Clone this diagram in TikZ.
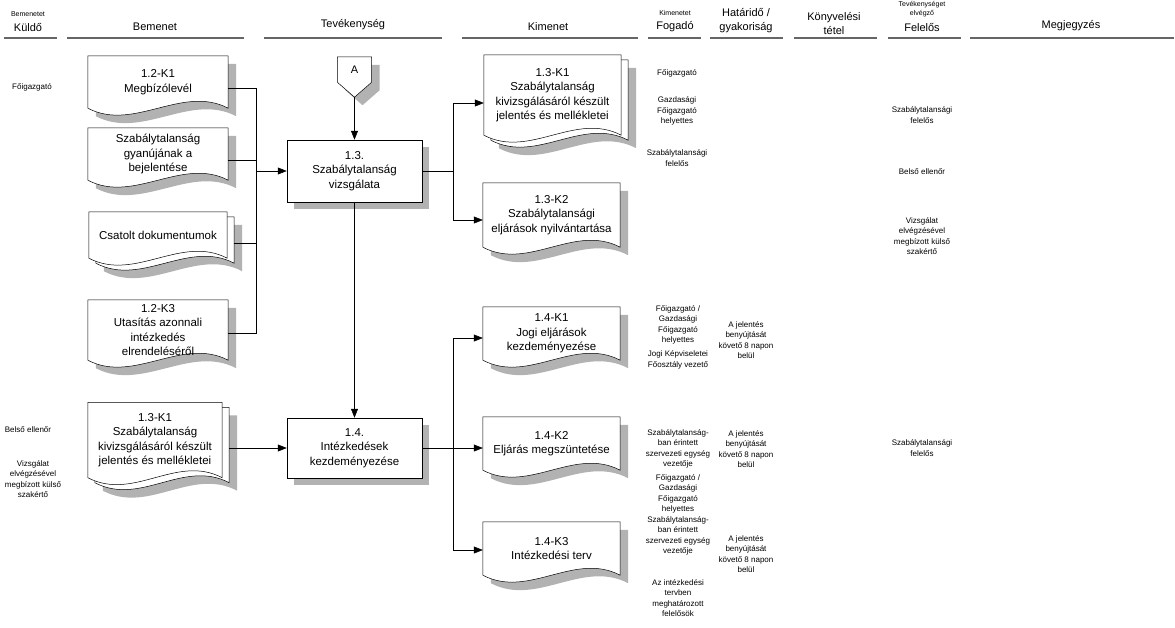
\documentclass[tikz,border=0pt]{standalone}
\usepackage{fontspec}
\setmainfont{Liberation Sans}
\usetikzlibrary{arrows.meta,shadows}
\pgfdeclarelayer{back}
\pgfsetlayers{back,main}

\newcommand{\boxfont}{\fontsize{11.5}{14.5}\selectfont}
\newcommand{\notefont}{\fontsize{8}{10.3}\selectfont}
% document outline with a wavy foot, shifted by (#2,#3)
\newcommand{\docpath}[3]{([shift={(#2,#3)}]#1.north west) -- ([shift={(#2,#3)}]#1.north east) -- ([shift={(#2,#3)}]#1.south east) .. controls +(-46,-24) and +(46,24) .. ([shift={(#2,#3)}]#1.south west) -- cycle}
\newcommand{\onedoc}[1]{\begin{pgfonlayer}{back}
  \fill[docshadow] \docpath{#1}{8}{8};
  \filldraw[docline] \docpath{#1}{0}{0};
\end{pgfonlayer}}
\newcommand{\twodoc}[1]{\begin{pgfonlayer}{back}
  \fill[docshadow] \docpath{#1}{15}{13};
  \filldraw[docline] \docpath{#1}{7}{5};
  \filldraw[docline] \docpath{#1}{0}{0};
\end{pgfonlayer}}

\begin{document}
\begin{tikzpicture}[x=1pt, y=-1pt, >={Triangle[length=9pt,width=7pt]},
  docshadow/.style={fill=black!30},
  docline/.style={draw=black, fill=white, line width=0.5pt},
  docnode/.style={minimum width=140, minimum height=52, inner sep=0, align=center, font=\boxfont},
  procbox/.style={draw, fill=white, line width=0.5pt, minimum width=135, minimum height=62, inner sep=0, align=center, font=\boxfont,
    drop shadow={shadow xshift=7pt, shadow yshift=-7pt, fill=black!30, opacity=1}},
  hdr/.style={inner sep=0, align=center, font=\fontsize{11}{14}\selectfont},
  hdrsmall/.style={inner sep=0, align=center, font=\fontsize{7}{8.5}\selectfont},
  note/.style={inner sep=0, align=center, font=\notefont},
  hline/.style={line width=1.6pt, black!60},
  wire/.style={line width=0.5pt}]
\useasboundingbox (0,0) rectangle (1175,627);

% header
\node[hdrsmall] (hkuldsm) at (28,14) {Bemenetet};
\node[hdr] (hkuld) at (28,28) {Küldő};
\node[hdr] (hbem) at (155,27) {Bemenet};
\node[hdr] (htev) at (353,25) {Tevékenység};
\node[hdr] (hkim) at (548,27) {Kimenet};
\node[hdrsmall] (hfogsm) at (675,13) {Kimenetet};
\node[hdr] (hfog) at (675,27) {Fogadó};
\node[hdr] (hhat) at (746,21) {Határidő /\\gyakoriság};
\node[hdr] (hkonyv) at (834,24) {Könyvelési\\tétel};
\node[hdrsmall] (hfelsm) at (922,9) {Tevékenységet\\elvégző};
\node[hdr] (hfel) at (922,28) {Felelős};
\node[hdr] (hmegj) at (1071,26) {Megjegyzés};
\foreach \a/\b in {4/57, 67/244, 264/442, 462/638, 648/701, 710/783, 794/877, 888/961, 970/1174}
  \draw[hline] (\a,38) -- (\b,38);

% inputs
\node[docnode] (d1) at (158,82) {1.2-K1\\Megbízólevél};
\node[docnode] (d2) at (158,154) {Szabálytalanság\\gyanújának a\\bejelentése};
\node[docnode, minimum width=138, minimum height=46] (d3) at (158,235) {Csatolt dokumentumok};
\node[docnode, minimum height=60] (d4) at (158,330) {1.2-K3\\Utasítás azonnali\\intézkedés\\elrendeléséről};
\node[docnode, minimum width=134, minimum height=75] (d5) at (155,440) {1.3-K1\\Szabálytalanság\\kivizsgálásáról készült\\jelentés és mellékletei};
\onedoc{d1} \onedoc{d2} \twodoc{d3} \onedoc{d4} \twodoc{d5}

% activities
\node[hdr, minimum width=34, minimum height=25] (conA) at (354.5,69.5) {A};
\begin{pgfonlayer}{back}
  \fill[docshadow] ([shift={(8,8)}]conA.north west) -- ([shift={(8,8)}]conA.north east) -- ([shift={(8,8)}]conA.south east) -- ([shift={(8,23)}]conA.south) -- ([shift={(8,8)}]conA.south west) -- cycle;
  \filldraw[docline] (conA.north west) -- (conA.north east) -- (conA.south east) -- ([yshift=-15pt]conA.south) -- (conA.south west) -- cycle;
\end{pgfonlayer}
\coordinate (conAtip) at ([yshift=-15pt]conA.south);
\node[procbox] (p13) at (354.5,171) {1.3.\\Szabálytalanság\\vizsgálata};
\node[procbox, minimum height=60] (p14) at (354.5,448) {1.4.\\Intézkedések\\kezdeményezése};

% outputs
\node[docnode, minimum width=137, minimum height=80] (k13a) at (552.5,95) {1.3-K1\\Szabálytalanság\\kivizsgálásáról készült\\jelentés és mellékletei};
\node[docnode, minimum width=137, minimum height=64] (k13b) at (551.5,215) {1.3-K2\\Szabálytalansági\\eljárások nyilvántartása};
\node[docnode, minimum width=137, minimum height=53] (k14a) at (551.5,333.5) {1.4-K1\\Jogi eljárások\\kezdeményezése};
\node[docnode, minimum width=137, minimum height=53] (k14b) at (551.5,443.5) {1.4-K2\\Eljárás megszüntetése};
\node[docnode, minimum width=137, minimum height=53] (k14c) at (551.5,548.5) {1.4-K3\\Intézkedési terv};
\twodoc{k13a} \onedoc{k13b} \onedoc{k14a} \onedoc{k14b} \onedoc{k14c}

% connectors
\coordinate (jin) at ([xshift=-31pt]p13.west);
\draw[wire] ([yshift=-6pt]d1.east) -| (jin);
\draw[wire] ([yshift=-6pt]d2.east) -| (jin);
\draw[wire] ([xshift=7pt,yshift=-8pt]d3.east) -| (jin);
\draw[wire] ([yshift=-3pt]d4.east) -| (jin);
\draw[wire,->] (jin) -- (p13.west);
\draw[wire,->] ([xshift=7pt,yshift=-8pt]d5.east) -- (p14.west);
\draw[wire,->] (conAtip) -- (p13.north);
\draw[wire,->] (p13.south) -- (p14.north);
\draw[wire] (p13.east) -- +(31,0) coordinate (j13);
\draw[wire,->] (j13) |- ([yshift=-8pt]k13a.west);
\draw[wire,->] (j13) |- ([yshift=-5pt]k13b.west);
\draw[wire] (p14.east) -- +(31,0) coordinate (j14);
\draw[wire,->] (j14) |- ([yshift=-4.5pt]k14a.west);
\draw[wire,->] (j14) |- ([yshift=-4.5pt]k14b.west);
\draw[wire,->] (j14) |- ([yshift=-1.5pt]k14c.west);

% senders
\node[note] (kf1) at (32,87) {Főigazgató};
\node[note] (kf2) at (28,430) {Belső ellenőr};
\node[note] (kf3) at (33,479) {Vizsgálat\\elvégzésével\\megbízott külső\\szakértő};

% receivers
\node[note] (fg1) at (677,73) {Főigazgató};
\node[note] (fg2) at (677,111) {Gazdasági\\Főigazgató\\helyettes};
\node[note] (fg3) at (677,158) {Szabálytalansági\\felelős};
\node[note] (fg4) at (678,325) {Főigazgató /\\Gazdasági\\Főigazgató\\helyettes};
\node[note] (fg5) at (678,360) {Jogi Képviseletei\\Főosztály vezető};
\node[note] (fg6) at (678,449) {Szabálytalanság-\\ban érintett\\szervezeti egység\\vezetője};
\node[note] (fg7) at (678,494) {Főigazgató /\\Gazdasági\\Főigazgató\\helyettes};
\node[note] (fg8) at (678,536) {Szabálytalanság-\\ban érintett\\szervezeti egység\\vezetője};
\node[note] (fg9) at (678,598) {Az intézkedési\\tervben\\meghatározott\\felelősök};

% deadlines
\node[note] (ha1) at (746,340) {A jelentés\\benyújtását\\követő 8 napon\\belül};
\node[note] (ha2) at (746,449) {A jelentés\\benyújtását\\követő 8 napon\\belül};
\node[note] (ha3) at (746,554) {A jelentés\\benyújtását\\követő 8 napon\\belül};

% responsible
\node[note] (fe1) at (922,115) {Szabálytalansági\\felelős};
\node[note] (fe2) at (922,172) {Belső ellenőr};
\node[note] (fe3) at (922,236) {Vizsgálat\\elvégzésével\\megbízott külső\\szakértő};
\node[note] (fe4) at (922,448) {Szabálytalansági\\felelős};
\end{tikzpicture}
\end{document}
